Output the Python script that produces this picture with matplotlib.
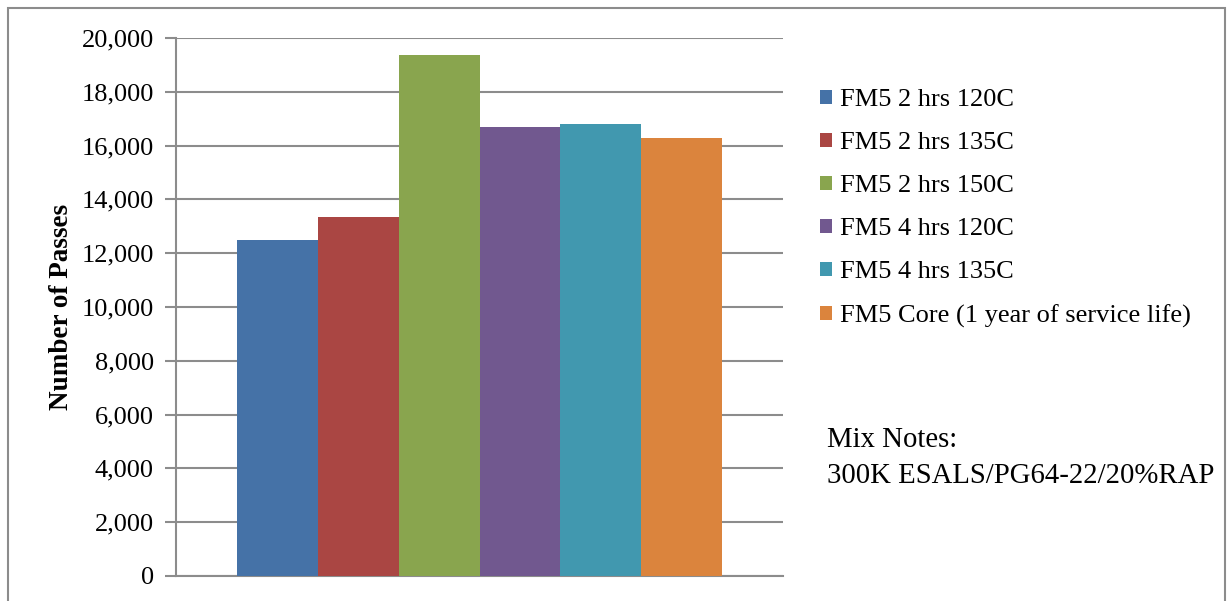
import matplotlib
matplotlib.use("Agg")
import matplotlib.pyplot as plt
from matplotlib.patches import Rectangle
from matplotlib.ticker import FuncFormatter

series = ["FM5 2 hrs 120C", "FM5 2 hrs 135C", "FM5 2 hrs 150C",
          "FM5 4 hrs 120C", "FM5 4 hrs 135C", "FM5 Core (1 year of service life)"]
values = [12490, 13340, 19370, 16700, 16800, 16290]
colors = ["#4572A7", "#AA4643", "#89A54E", "#71588F", "#4198AF", "#DB843D"]
yticks = list(range(0, 20001, 2000))

plt.rcParams['font.family'] = ['Liberation Serif', 'DejaVu Serif']

fig = plt.figure(figsize=(12.31, 6.01), dpi=100)
ax = fig.add_axes([176/1231, 1-576/601, (783-176)/1231, (576-38)/601])

n = len(values)
w = 0.8 / n
for i, (lab, v, c) in enumerate(zip(series, values, colors)):
    x = -0.4 + w * (i + 0.5)
    ax.bar(x, v, width=w, color=c, label=lab, zorder=3)

ax.set_xlim(-0.5, 0.5)
ax.set_ylim(0, 20000)
ax.set_yticks(yticks)
ax.yaxis.set_major_formatter(FuncFormatter(lambda v, p: f"{int(v):,}"))
ax.set_xticks([])
ax.grid(axis='y', color='#8c8c8c', linewidth=1.5, zorder=0)
for s in ['top', 'right']:
    ax.spines[s].set_visible(False)
for s in ['left', 'bottom']:
    ax.spines[s].set_color('#8c8c8c')
    ax.spines[s].set_linewidth(1.5)
ax.tick_params(axis='y', length=8, width=1.5, color='#8c8c8c', labelsize=19, pad=8)
ax.set_ylabel("Number of Passes", fontsize=19.5, fontweight='bold', labelpad=5)

leg = ax.legend(loc='upper left', bbox_to_anchor=(820/1231, 1-89/601),
                bbox_transform=fig.transFigure, frameon=False, fontsize=19,
                handlelength=0.45, handleheight=0.45, handletextpad=0.3,
                labelspacing=0.8, borderaxespad=0, borderpad=0)

fig.text(827/1231, 1-458/601, "Mix Notes:\n300K ESALS/PG64-22/20%RAP",
         fontsize=20.7, va='center', ha='left', linespacing=1.5)

fig.patches.append(Rectangle((8/1231, -0.05), (1225-8)/1231, 1.05-8/601,
                             transform=fig.transFigure, fill=False,
                             edgecolor='#8c8c8c', linewidth=1.5))

fig.savefig("out.png", dpi=100)
